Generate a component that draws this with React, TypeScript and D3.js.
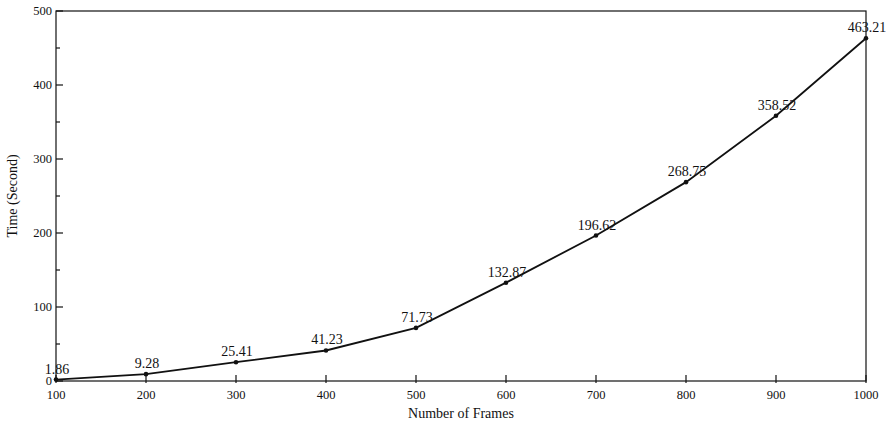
import React from "react";
import * as d3 from "d3";

const frames = [100, 200, 300, 400, 500, 600, 700, 800, 900, 1000];
const times = [1.86, 9.28, 25.41, 41.23, 71.73, 132.87, 196.62, 268.75, 358.52, 463.21];
const xTicks = [100, 200, 300, 400, 500, 600, 700, 800, 900, 1000];
const yTicks = [0, 100, 200, 300, 400, 500];
const yMinorTicks = [50, 150, 250, 350, 450];

export default function App() {
  const W = 892, H = 429;
  const m = { left: 56, right: 26, top: 11, bottom: 48 };
  const x = d3.scaleLinear().domain([100, 1000]).range([m.left, W - m.right]);
  const y = d3.scaleLinear().domain([0, 500]).range([H - m.bottom, m.top]);
  const line = d3.line<number>().x((_, i) => x(frames[i])).y((d) => y(d));
  const font = "'Liberation Serif', 'Times New Roman', serif";
  return (
    <svg width={W} height={H} style={{ position: "absolute", left: 0, top: 0 }} fontFamily={font}>
      <rect x={0} y={0} width={W} height={H} fill="#fff" />
      <rect x={m.left} y={m.top} width={W - m.left - m.right} height={H - m.top - m.bottom} fill="none" stroke="#111" strokeWidth={1.2} />
      {yTicks.map((t) => (
        <g key={"y" + t}>
          <line x1={m.left} x2={m.left + 7} y1={y(t)} y2={y(t)} stroke="#111" strokeWidth={1.2} />
          <text x={m.left - 4} y={y(t)} dy="0.35em" textAnchor="end" fontSize={12.5} fill="#111">{t}</text>
        </g>
      ))}
      {yMinorTicks.map((t) => (
        <line key={"ym" + t} x1={m.left} x2={m.left + 4} y1={y(t)} y2={y(t)} stroke="#111" strokeWidth={1.2} />
      ))}
      {xTicks.map((t) => (
        <g key={"x" + t}>
          <line x1={x(t)} x2={x(t)} y1={y(0) + 2} y2={y(0) - 6} stroke="#111" strokeWidth={1.2} />
          <text x={x(t)} y={y(0) + 18} textAnchor="middle" fontSize={12.5} fill="#111">{t}</text>
        </g>
      ))}
      <path d={line(times) || ""} fill="none" stroke="#111" strokeWidth={1.8} />
      {times.map((v, i) => (
        <g key={"p" + i}>
          <circle cx={x(frames[i])} cy={y(v)} r={2.3} fill="#111" />
          <text x={x(frames[i]) + 1} y={y(v) - 6} textAnchor="middle" fontSize={14} fill="#111">{v.toFixed(2)}</text>
        </g>
      ))}
      <text x={(m.left + W - m.right) / 2} y={418} textAnchor="middle" fontSize={14} fill="#111">Number of Frames</text>
      <text transform={`translate(17,${(m.top + H - m.bottom) / 2}) rotate(-90)`} textAnchor="middle" fontSize={14} fill="#111">Time (Second)</text>
    </svg>
  );
}
